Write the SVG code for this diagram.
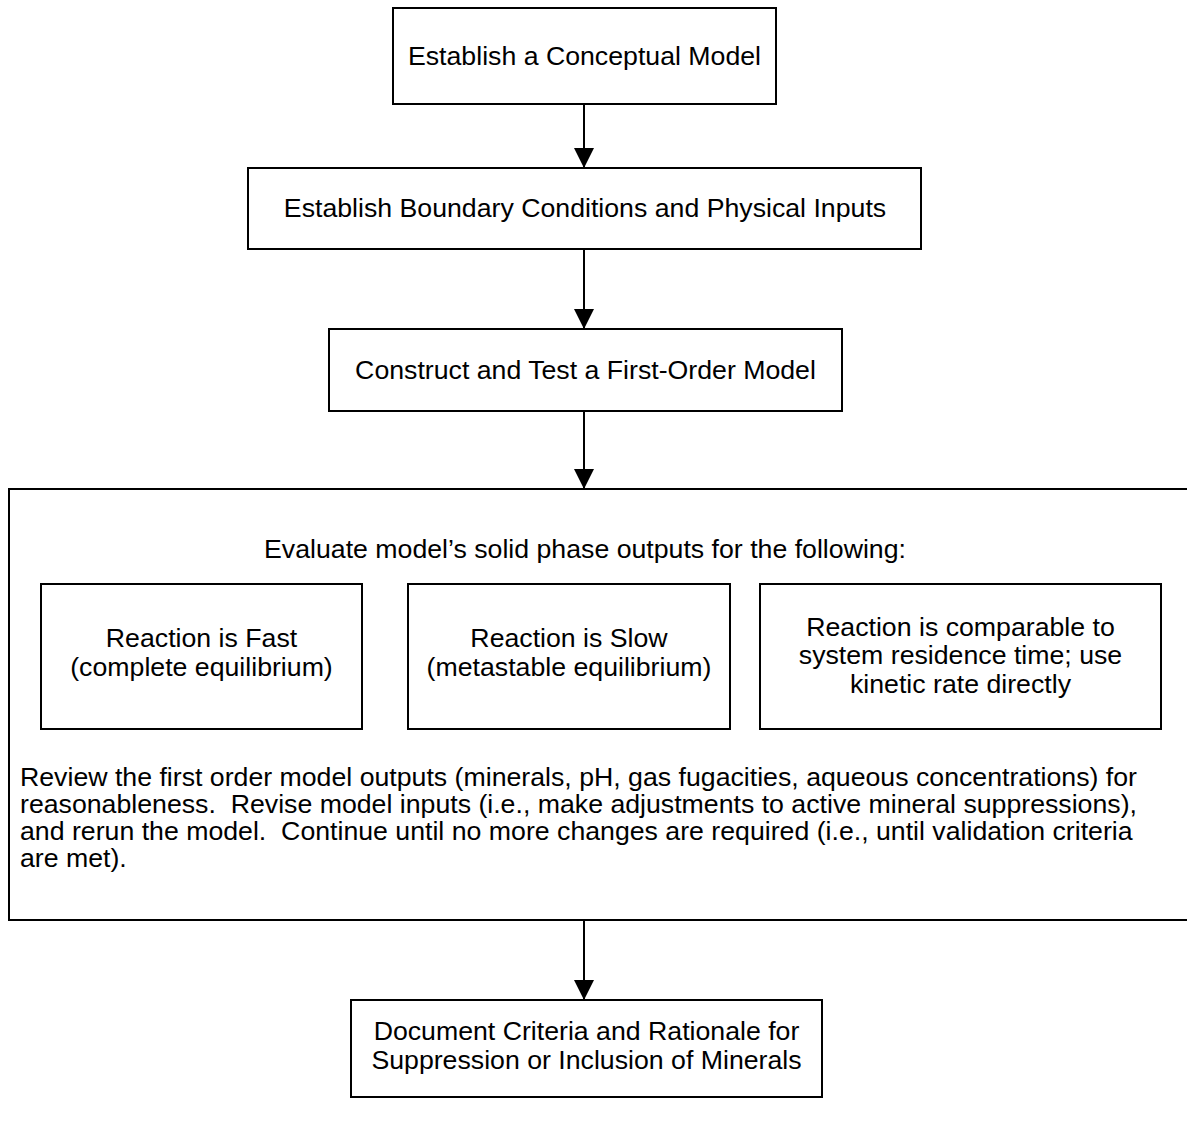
<svg xmlns="http://www.w3.org/2000/svg" width="1187" height="1143" viewBox="0 0 1187 1143">
<style>
.box{fill:#fff;stroke:#000;stroke-width:2}
.t{font-family:"Liberation Sans",Arial,sans-serif;font-size:26.7px;fill:#000;white-space:pre}
.c{text-anchor:middle}
.conn{stroke:#000;stroke-width:2;fill:none}
</style>
<defs>
<marker id="arr" viewBox="0 0 20 20" refX="20" refY="10" markerWidth="20" markerHeight="20" orient="auto" markerUnits="userSpaceOnUse">
<path d="M0,0 L20,10 L0,20 Z" fill="#000"/>
</marker>
</defs>
<g id="n1"><rect class="box" x="393" y="8" width="383" height="96"/><text class="t c" x="584.5" y="65">Establish a Conceptual Model</text></g>
<g id="n2"><rect class="box" x="248" y="168" width="673" height="81"/><text class="t c" x="585" y="217">Establish Boundary Conditions and Physical Inputs</text></g>
<g id="n3"><rect class="box" x="329" y="329" width="513" height="82"/><text class="t c" x="585.5" y="379">Construct and Test a First-Order Model</text></g>
<g id="n4"><rect class="box" x="9" y="489" width="1190" height="431"/>
<text class="t c" x="585" y="558">Evaluate model’s solid phase outputs for the following:</text>
<text class="t" x="20" y="786" xml:space="preserve">Review the first order model outputs (minerals, pH, gas fugacities, aqueous concentrations) for</text>
<text class="t" x="20" y="813" xml:space="preserve">reasonableness.  Revise model inputs (i.e., make adjustments to active mineral suppressions),</text>
<text class="t" x="20" y="840" xml:space="preserve">and rerun the model.  Continue until no more changes are required (i.e., until validation criteria</text>
<text class="t" x="20" y="867">are met).</text>
</g>
<g id="n4a"><rect class="box" x="41" y="584" width="321" height="145"/><text class="t c" x="201.5" y="647">Reaction is Fast</text><text class="t c" x="201.5" y="676">(complete equilibrium)</text></g>
<g id="n4b"><rect class="box" x="408" y="584" width="322" height="145"/><text class="t c" x="569" y="647">Reaction is Slow</text><text class="t c" x="569" y="676">(metastable equilibrium)</text></g>
<g id="n4c"><rect class="box" x="760" y="584" width="401" height="145"/><text class="t c" x="960.5" y="636">Reaction is comparable to</text><text class="t c" x="960.5" y="664">system residence time; use</text><text class="t c" x="960.5" y="693">kinetic rate directly</text></g>
<g id="n5"><rect class="box" x="351" y="1000" width="471" height="97"/><text class="t c" x="586.5" y="1040">Document Criteria and Rationale for</text><text class="t c" x="586.5" y="1069">Suppression or Inclusion of Minerals</text></g>
<g id="connectors">
<line class="conn" x1="584" y1="104" x2="584" y2="168" marker-end="url(#arr)"/>
<line class="conn" x1="584" y1="249" x2="584" y2="329" marker-end="url(#arr)"/>
<line class="conn" x1="584" y1="411" x2="584" y2="489" marker-end="url(#arr)"/>
<line class="conn" x1="584" y1="920" x2="584" y2="1000" marker-end="url(#arr)"/>
</g>
</svg>
